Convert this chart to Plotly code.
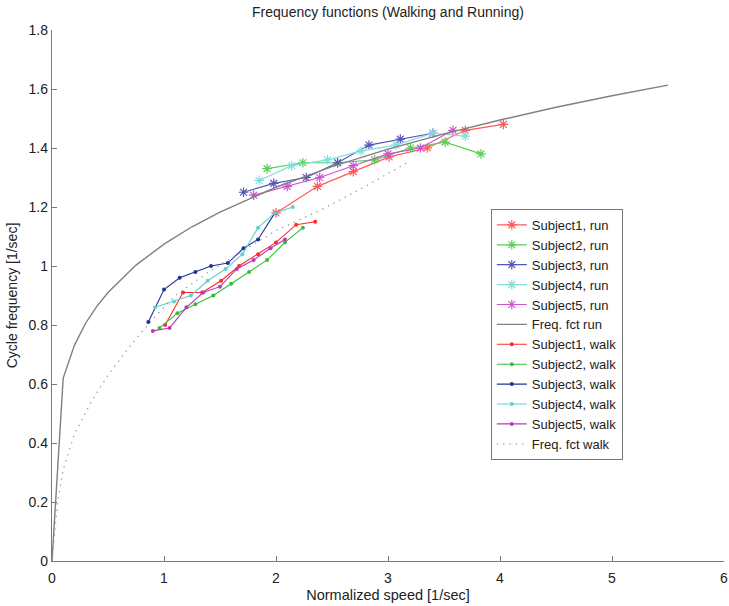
import plotly.graph_objects as go

# ---------------- data ----------------
# Running (asterisk markers)
run1_x = [2.00, 2.37, 2.69, 3.01, 3.35, 3.69, 4.03]
run1_y = [1.18, 1.27, 1.32, 1.37, 1.40, 1.46, 1.48]
run2_x = [1.92, 2.24, 2.55, 2.88, 3.20, 3.51, 3.83]
run2_y = [1.33, 1.35, 1.35, 1.36, 1.40, 1.42, 1.38]
run3_x = [1.71, 1.98, 2.27, 2.55, 2.83, 3.11, 3.40]
run3_y = [1.25, 1.28, 1.30, 1.35, 1.41, 1.43, 1.45]
run4_x = [1.85, 2.14, 2.46, 2.76, 3.07, 3.40, 3.69]
run4_y = [1.29, 1.34, 1.36, 1.39, 1.41, 1.45, 1.44]
run5_x = [1.80, 2.10, 2.39, 2.69, 3.00, 3.29, 3.58]
run5_y = [1.24, 1.27, 1.30, 1.34, 1.38, 1.40, 1.46]

# Frequency function for running (solid grey curve)
frun_x = [0, 0.1, 0.2, 0.3, 0.4, 0.5, 0.75, 1.0, 1.25, 1.5, 2.0, 2.5, 3.0, 3.5, 4.0, 4.5, 5.0, 5.5]
frun_y = [0, 0.62, 0.731, 0.806, 0.863, 0.910, 1.003, 1.074, 1.133, 1.183, 1.267, 1.337,
          1.396, 1.448, 1.495, 1.538, 1.577, 1.613]

# Walking (dot markers)
walk1_x = [1.01, 1.17, 1.34, 1.51, 1.67, 1.84, 2.00, 2.18, 2.35]
walk1_y = [0.80, 0.91, 0.91, 0.95, 1.00, 1.04, 1.08, 1.14, 1.15]
walk2_x = [0.96, 1.12, 1.28, 1.44, 1.60, 1.76, 1.92, 2.08, 2.24]
walk2_y = [0.79, 0.84, 0.87, 0.90, 0.94, 0.98, 1.02, 1.08, 1.13]
walk3_x = [0.86, 1.00, 1.14, 1.28, 1.42, 1.57, 1.71, 1.84, 1.99]
walk3_y = [0.81, 0.92, 0.96, 0.98, 1.00, 1.01, 1.06, 1.09, 1.18]
walk4_x = [0.92, 1.09, 1.24, 1.39, 1.55, 1.70, 1.84, 1.99, 2.15]
walk4_y = [0.86, 0.88, 0.90, 0.95, 0.99, 1.04, 1.13, 1.18, 1.20]
walk5_x = [0.90, 1.05, 1.20, 1.35, 1.50, 1.65, 1.80, 1.95, 2.08]
walk5_y = [0.78, 0.79, 0.86, 0.91, 0.93, 0.99, 1.02, 1.06, 1.09]

# Frequency function for walking (dotted grey curve)
fwalk_x = [0, 0.05, 0.1, 0.2, 0.35, 0.5, 0.7, 0.9, 1.1, 1.4, 1.7, 2.0, 2.4, 2.8, 3.17]
fwalk_y = [0, 0.20, 0.31, 0.43, 0.54, 0.63, 0.73, 0.82, 0.90, 0.98, 1.05, 1.12, 1.19, 1.27, 1.35]

run_names = ["Subject1, run", "Subject2, run", "Subject3, run", "Subject4, run", "Subject5, run"]
walk_names = ["Subject1, walk", "Subject2, walk", "Subject3, walk", "Subject4, walk", "Subject5, walk"]

run_colors = ["#ff5a5a", "#55d055", "#5555bb", "#80dede", "#cc55cc"]
walk_colors = ["#ff2a2a", "#33c033", "#22309f", "#60cfcf", "#bb38bb"]

runs = [(run1_x, run1_y), (run2_x, run2_y), (run3_x, run3_y), (run4_x, run4_y), (run5_x, run5_y)]
walks = [(walk1_x, walk1_y), (walk2_x, walk2_y), (walk3_x, walk3_y), (walk4_x, walk4_y), (walk5_x, walk5_y)]

fig = go.Figure()

for (xs, ys), name, col in zip(runs, run_names, run_colors):
    fig.add_trace(go.Scatter(
        x=xs, y=ys, name=name, mode="lines+markers",
        line=dict(color=col, width=1.2),
        marker=dict(symbol="asterisk-open", size=8, color=col, line=dict(color=col, width=1.2)),
    ))

fig.add_trace(go.Scatter(
    x=frun_x, y=frun_y, name="Freq. fct run", mode="lines",
    line=dict(color="#808080", width=1.4),
))

for (xs, ys), name, col in zip(walks, walk_names, walk_colors):
    fig.add_trace(go.Scatter(
        x=xs, y=ys, name=name, mode="lines+markers",
        line=dict(color=col, width=1.1),
        marker=dict(symbol="circle", size=4, color=col),
    ))

fig.add_trace(go.Scatter(
    x=fwalk_x, y=fwalk_y, name="Freq. fct walk", mode="lines",
    line=dict(color="#9a9a9a", width=1.3, dash="1.3px,5px"),
))

font_family = "Liberation Sans, Arial, sans-serif"

fig.update_layout(
    width=729, height=606,
    margin=dict(l=52, r=1, t=30, b=45),
    paper_bgcolor="white", plot_bgcolor="white",
    font=dict(family=font_family, size=14, color="#222222"),
    title=dict(text="Frequency functions (Walking and Running)",
               x=0.5, xref="paper", xanchor="center",
               y=1 - 12 / 606, yref="container", yanchor="middle",
               font=dict(size=14, color="#222222")),
    showlegend=True,
    legend=dict(
        x=0.653, y=0.663, xanchor="left", yanchor="top",
        bgcolor="white", bordercolor="#777777", borderwidth=1,
        font=dict(size=13, color="#222222"),
        tracegroupgap=0, itemwidth=30,
    ),
    xaxis=dict(
        range=[0, 6], tickvals=[0, 1, 2, 3, 4, 5, 6],
        showgrid=False, zeroline=False,
        showline=True, linecolor="#7a7a7a", linewidth=1.3, mirror=False,
        ticks="inside", ticklen=5, tickcolor="#7a7a7a", tickwidth=1,
        ticklabelstandoff=4, ticklabeloverflow="allow",
        title=dict(text="Normalized speed [1/sec]", standoff=4, font=dict(size=14.5)),
        tickfont=dict(size=14),
    ),
    yaxis=dict(
        range=[0, 1.8], tickvals=[0, 0.2, 0.4, 0.6, 0.8, 1.0, 1.2, 1.4, 1.6, 1.8],
        ticktext=["0", "0.2", "0.4", "0.6", "0.8", "1", "1.2", "1.4", "1.6", "1.8"],
        showgrid=False, zeroline=False,
        showline=True, linecolor="#7a7a7a", linewidth=1.3, mirror=False,
        ticks="inside", ticklen=5, tickcolor="#7a7a7a", tickwidth=1,
        title=dict(text="Cycle frequency [1/sec]", standoff=7, font=dict(size=14)),
        tickfont=dict(size=14),
    ),
)

fig.write_html("out.html")
